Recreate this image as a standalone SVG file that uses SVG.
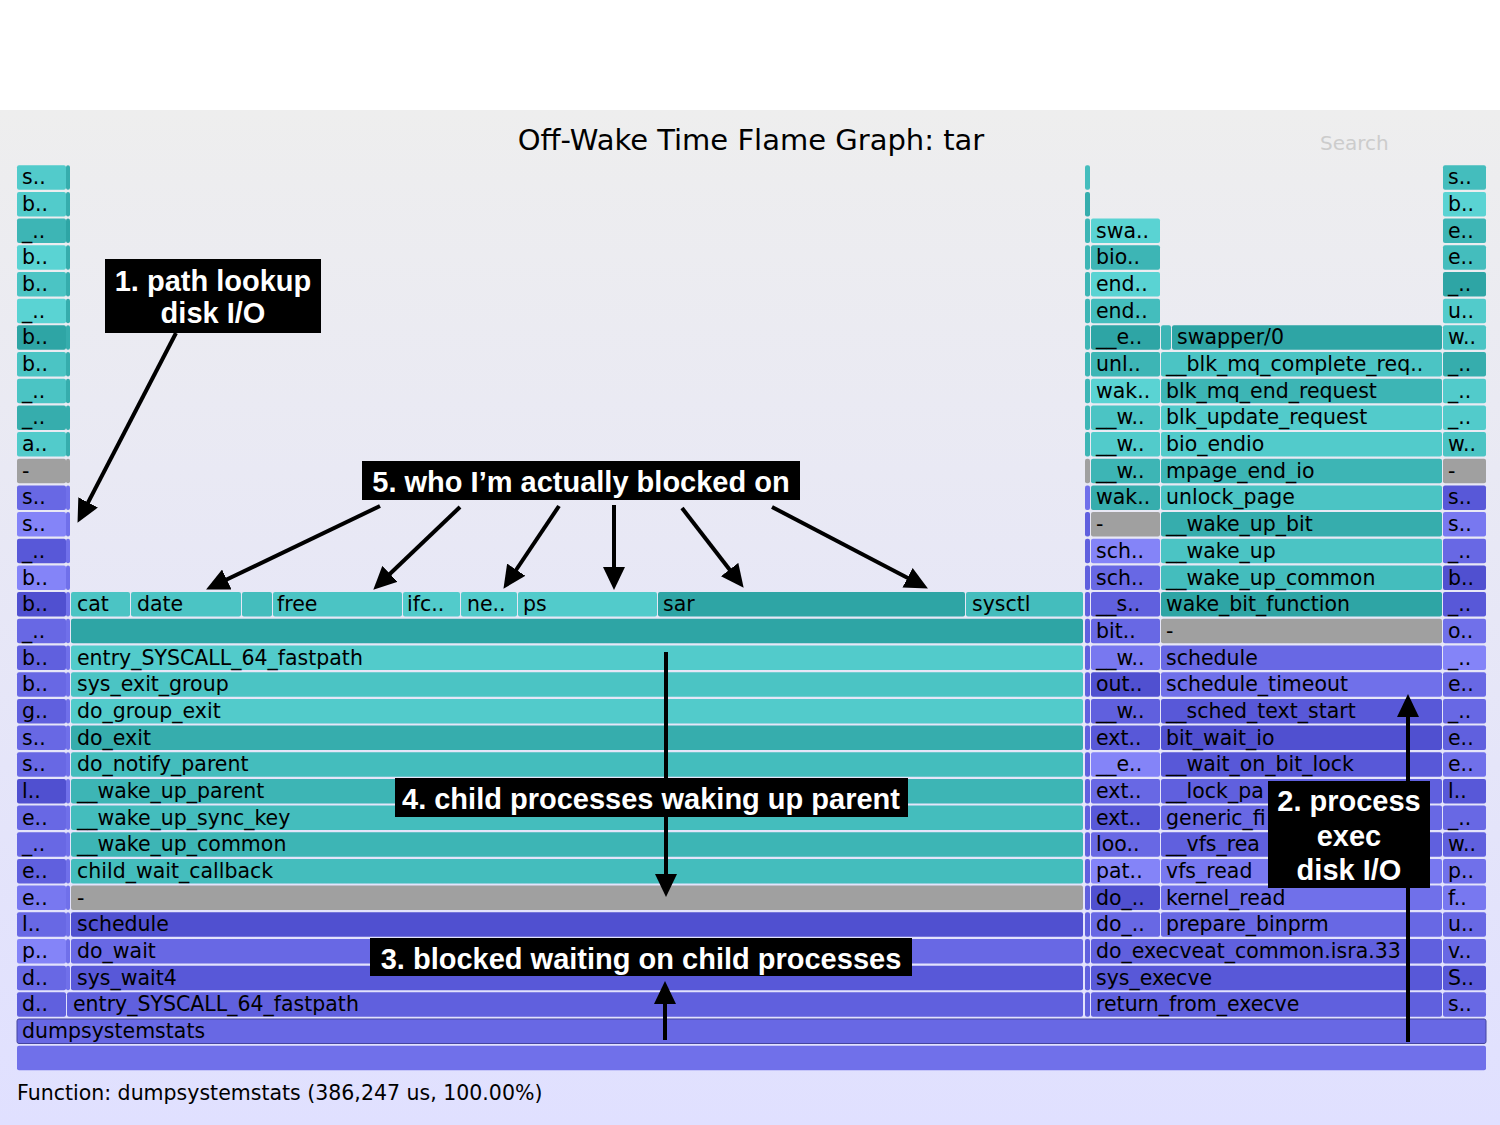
<svg xmlns="http://www.w3.org/2000/svg" width="1500" height="1125" viewBox="0 0 1500 1125">
<style>
.fr rect{rx:2px;ry:2px}
.T0{fill:#2ea5a5}.T1{fill:#36adad}.T2{fill:#3db5b5}.T3{fill:#44bdbd}.T4{fill:#4bc4c4}.T5{fill:#52cbcb}.T6{fill:#5ad3d3}
.B0{fill:#5050d0}.B1{fill:#5858d8}.B2{fill:#6060de}.B3{fill:#6868e4}.B4{fill:#7070ea}.B5{fill:#7878f0}.B6{fill:#8484f8}
.G{fill:#a0a0a0}
.t{font-family:"DejaVu Sans",Verdana,sans-serif;font-size:20.5px;fill:#000}
.title{font-family:"DejaVu Sans",Verdana,sans-serif;font-size:29px;fill:#000;text-anchor:middle}
.search{font-family:"DejaVu Sans",Verdana,sans-serif;font-size:20px;fill:#cccccc}
.a{font-family:"Liberation Sans",Arial,Helvetica,sans-serif;font-weight:bold;font-size:29px;fill:#fff;text-anchor:middle}
.box{fill:#000}
.arr{stroke:#000;stroke-width:4;fill:none;marker-end:url(#ah)}
</style>
<defs>
<linearGradient id="bg" x1="0" y1="0" x2="0" y2="1">
<stop offset="0" stop-color="#eeeeee"/>
<stop offset="1" stop-color="#e0e0ff"/>
</linearGradient>
<marker id="ah" markerUnits="userSpaceOnUse" markerWidth="24" markerHeight="22" viewBox="0 0 24 22" refX="10" refY="11" orient="auto">
<path d="M0,0 L23,11 L0,22 z" fill="#000"/>
</marker>
</defs>
<rect x="0" y="0" width="1500" height="110" fill="#ffffff"/>
<rect x="0" y="110" width="1500" height="1015" fill="url(#bg)"/>
<text class="title" x="751" y="150">Off-Wake Time Flame Graph: tar</text>
<text class="search" x="1320" y="150">Search</text>

<g id="frames" class="fr">
<!-- left column -->
<g id="L33"><rect class="T5" x="17" y="165.3" width="49" height="24.5"/><text class="t" x="22" y="184.3">s..</text></g>
<g id="L32"><rect class="T5" x="17" y="191.9" width="49" height="24.5"/><text class="t" x="22" y="210.9">b..</text></g>
<g id="L31"><rect class="T2" x="17" y="218.6" width="49" height="24.5"/><text class="t" x="22" y="237.6">_..</text></g>
<g id="L30"><rect class="T6" x="17" y="245.3" width="49" height="24.5"/><text class="t" x="22" y="264.3">b..</text></g>
<g id="L29"><rect class="T4" x="17" y="272.0" width="49" height="24.5"/><text class="t" x="22" y="291">b..</text></g>
<g id="L28"><rect class="T6" x="17" y="298.7" width="49" height="24.5"/><text class="t" x="22" y="317.7">_..</text></g>
<g id="L27"><rect class="T0" x="17" y="325.3" width="49" height="24.5"/><text class="t" x="22" y="344.3">b..</text></g>
<g id="L26"><rect class="T4" x="17" y="352.0" width="49" height="24.5"/><text class="t" x="22" y="371">b..</text></g>
<g id="L25"><rect class="T4" x="17" y="378.7" width="49" height="24.5"/><text class="t" x="22" y="397.7">_..</text></g>
<g id="L24"><rect class="T1" x="17" y="405.4" width="49" height="24.5"/><text class="t" x="22" y="424.4">_..</text></g>
<g id="L23"><rect class="T5" x="17" y="432.1" width="49" height="24.5"/><text class="t" x="22" y="451.1">a..</text></g>
<g id="L22"><rect class="G" x="17" y="458.7" width="49" height="24.5"/><text class="t" x="22" y="477.7">-</text></g>
<g id="L21"><rect class="B3" x="17" y="485.4" width="49" height="24.5"/><text class="t" x="22" y="504.4">s..</text></g>
<g id="L20"><rect class="B6" x="17" y="512.1" width="49" height="24.5"/><text class="t" x="22" y="531.1">s..</text></g>
<g id="L19"><rect class="B1" x="17" y="538.8" width="49" height="24.5"/><text class="t" x="22" y="557.8">_..</text></g>
<g id="L18"><rect class="B6" x="17" y="565.5" width="49" height="24.5"/><text class="t" x="22" y="584.5">b..</text></g>
<g id="L17"><rect class="B0" x="17" y="592.1" width="49" height="24.5"/><text class="t" x="22" y="611.1">b..</text></g>
<g id="L16"><rect class="B3" x="17" y="618.8" width="49" height="24.5"/><text class="t" x="22" y="637.8">_..</text></g>
<g id="L15"><rect class="B2" x="17" y="645.5" width="49" height="24.5"/><text class="t" x="22" y="664.5">b..</text></g>
<g id="L14"><rect class="B3" x="17" y="672.2" width="49" height="24.5"/><text class="t" x="22" y="691.2">b..</text></g>
<g id="L13"><rect class="B2" x="17" y="698.9" width="49" height="24.5"/><text class="t" x="22" y="717.9">g..</text></g>
<g id="L12"><rect class="B3" x="17" y="725.5" width="49" height="24.5"/><text class="t" x="22" y="744.5">s..</text></g>
<g id="L11"><rect class="B3" x="17" y="752.2" width="49" height="24.5"/><text class="t" x="22" y="771.2">s..</text></g>
<g id="L10"><rect class="B0" x="17" y="778.9" width="49" height="24.5"/><text class="t" x="22" y="797.9">l..</text></g>
<g id="L9"><rect class="B3" x="17" y="805.6" width="49" height="24.5"/><text class="t" x="22" y="824.6">e..</text></g>
<g id="L8"><rect class="B3" x="17" y="832.3" width="49" height="24.5"/><text class="t" x="22" y="851.3">_..</text></g>
<g id="L7"><rect class="B2" x="17" y="858.9" width="49" height="24.5"/><text class="t" x="22" y="877.9">e..</text></g>
<g id="L6"><rect class="B5" x="17" y="885.6" width="49" height="24.5"/><text class="t" x="22" y="904.6">e..</text></g>
<g id="L5"><rect class="B3" x="17" y="912.3" width="49" height="24.5"/><text class="t" x="22" y="931.3">l..</text></g>
<g id="L4"><rect class="B6" x="17" y="939.0" width="49" height="24.5"/><text class="t" x="22" y="958">p..</text></g>
<g id="L3"><rect class="B3" x="17" y="965.7" width="49" height="24.5"/><text class="t" x="22" y="984.7">d..</text></g>
<g id="L2"><rect class="B2" x="17" y="992.3" width="49" height="24.5"/><text class="t" x="22" y="1011.3">d..</text></g>

<!-- thin slivers -->
<g id="slivers">
<rect class="T1" x="66" y="165.3" width="4" height="24.5"/><rect class="T1" x="66" y="191.9" width="4" height="24.5"/><rect class="T0" x="66" y="218.6" width="4" height="24.5"/><rect class="T1" x="66" y="245.3" width="4" height="24.5"/><rect class="T1" x="66" y="272.0" width="4" height="24.5"/><rect class="T1" x="66" y="298.7" width="4" height="24.5"/><rect class="T1" x="66" y="325.3" width="4" height="24.5"/><rect class="T1" x="66" y="352.0" width="4" height="24.5"/><rect class="T1" x="66" y="378.7" width="4" height="24.5"/><rect class="T1" x="66" y="405.4" width="4" height="24.5"/><rect class="T1" x="66" y="432.1" width="4" height="24.5"/><rect class="G" x="66" y="458.7" width="4" height="24.5"/>
<rect class="B4" x="66" y="485.4" width="4" height="24.5"/><rect class="B4" x="66" y="512.1" width="4" height="24.5"/><rect class="B4" x="66" y="538.8" width="4" height="24.5"/><rect class="B4" x="66" y="565.5" width="4" height="24.5"/><rect class="B4" x="66" y="592.1" width="4" height="24.5"/><rect class="B4" x="66" y="618.8" width="4" height="24.5"/><rect class="B4" x="66" y="645.5" width="4" height="24.5"/><rect class="B4" x="66" y="672.2" width="4" height="24.5"/><rect class="B4" x="66" y="698.9" width="4" height="24.5"/><rect class="B4" x="66" y="725.5" width="4" height="24.5"/><rect class="B4" x="66" y="752.2" width="4" height="24.5"/><rect class="B4" x="66" y="778.9" width="4" height="24.5"/><rect class="B4" x="66" y="805.6" width="4" height="24.5"/><rect class="B4" x="66" y="832.3" width="4" height="24.5"/><rect class="B4" x="66" y="858.9" width="4" height="24.5"/><rect class="B4" x="66" y="885.6" width="4" height="24.5"/><rect class="B4" x="66" y="912.3" width="4" height="24.5"/><rect class="B4" x="66" y="939.0" width="4" height="24.5"/><rect class="B4" x="66" y="965.7" width="4" height="24.5"/>
<rect class="T3" x="1085" y="165.3" width="5" height="24.5"/><rect class="T1" x="1085" y="191.9" width="5" height="24.5"/><rect class="T2" x="1085" y="218.6" width="5" height="24.5"/><rect class="T2" x="1085" y="245.3" width="5" height="24.5"/><rect class="T2" x="1085" y="272.0" width="5" height="24.5"/><rect class="T2" x="1085" y="298.7" width="5" height="24.5"/><rect class="T2" x="1085" y="325.3" width="5" height="24.5"/><rect class="T2" x="1085" y="352.0" width="5" height="24.5"/><rect class="T2" x="1085" y="378.7" width="5" height="24.5"/><rect class="T2" x="1085" y="405.4" width="5" height="24.5"/><rect class="T2" x="1085" y="432.1" width="5" height="24.5"/><rect class="G" x="1085" y="458.7" width="5" height="24.5"/>
<rect class="B4" x="1085" y="485.4" width="5" height="24.5"/><rect class="B2" x="1085" y="512.1" width="5" height="24.5"/><rect class="B2" x="1085" y="538.8" width="5" height="24.5"/><rect class="B2" x="1085" y="565.5" width="5" height="24.5"/><rect class="B2" x="1085" y="592.1" width="5" height="24.5"/><rect class="B2" x="1085" y="618.8" width="5" height="24.5"/><rect class="B2" x="1085" y="645.5" width="5" height="24.5"/><rect class="B2" x="1085" y="672.2" width="5" height="24.5"/><rect class="B2" x="1085" y="698.9" width="5" height="24.5"/><rect class="B2" x="1085" y="725.5" width="5" height="24.5"/><rect class="B2" x="1085" y="752.2" width="5" height="24.5"/><rect class="B2" x="1085" y="778.9" width="5" height="24.5"/><rect class="B2" x="1085" y="805.6" width="5" height="24.5"/><rect class="B2" x="1085" y="832.3" width="5" height="24.5"/><rect class="B2" x="1085" y="858.9" width="5" height="24.5"/><rect class="B2" x="1085" y="885.6" width="5" height="24.5"/><rect class="B2" x="1085" y="912.3" width="5" height="24.5"/><rect class="B2" x="1085" y="939.0" width="5" height="24.5"/><rect class="B2" x="1085" y="965.7" width="5" height="24.5"/><rect class="B2" x="1085" y="992.3" width="5" height="24.5"/>
</g>

<!-- main block -->
<g id="cat"><rect class="T4" x="71" y="592.1" width="59" height="24.5"/><text class="t" x="77" y="611.1">cat</text></g>
<g id="date"><rect class="T4" x="131" y="592.1" width="110" height="24.5"/><text class="t" x="137" y="611.1">date</text></g>
<g id="blank17"><rect class="T3" x="242" y="592.1" width="30" height="24.5"/></g>
<g id="free"><rect class="T4" x="273" y="592.1" width="129" height="24.5"/><text class="t" x="277" y="611.1">free</text></g>
<g id="ifc"><rect class="T5" x="403" y="592.1" width="57" height="24.5"/><text class="t" x="407" y="611.1">ifc..</text></g>
<g id="ne"><rect class="T5" x="461" y="592.1" width="56" height="24.5"/><text class="t" x="467" y="611.1">ne..</text></g>
<g id="ps"><rect class="T5" x="518" y="592.1" width="139" height="24.5"/><text class="t" x="523" y="611.1">ps</text></g>
<g id="sar"><rect class="T0" x="658" y="592.1" width="307" height="24.5"/><text class="t" x="663" y="611.1">sar</text></g>
<g id="sysctl"><rect class="T3" x="966" y="592.1" width="117" height="24.5"/><text class="t" x="972" y="611.1">sysctl</text></g>
<g id="M16"><rect class="T0" x="71" y="618.8" width="1012" height="24.5"/></g>
<g id="M15"><rect class="T5" x="71" y="645.5" width="1012" height="24.5"/><text class="t" x="77" y="664.5">entry_SYSCALL_64_fastpath</text></g>
<g id="M14"><rect class="T4" x="71" y="672.2" width="1012" height="24.5"/><text class="t" x="77" y="691.2">sys_exit_group</text></g>
<g id="M13"><rect class="T5" x="71" y="698.9" width="1012" height="24.5"/><text class="t" x="77" y="717.9">do_group_exit</text></g>
<g id="M12"><rect class="T1" x="71" y="725.5" width="1012" height="24.5"/><text class="t" x="77" y="744.5">do_exit</text></g>
<g id="M11"><rect class="T3" x="71" y="752.2" width="1012" height="24.5"/><text class="t" x="77" y="771.2">do_notify_parent</text></g>
<g id="M10"><rect class="T2" x="71" y="778.9" width="1012" height="24.5"/><text class="t" x="77" y="797.9">__wake_up_parent</text></g>
<g id="M9"><rect class="T3" x="71" y="805.6" width="1012" height="24.5"/><text class="t" x="77" y="824.6">__wake_up_sync_key</text></g>
<g id="M8"><rect class="T2" x="71" y="832.3" width="1012" height="24.5"/><text class="t" x="77" y="851.3">__wake_up_common</text></g>
<g id="M7"><rect class="T3" x="71" y="858.9" width="1012" height="24.5"/><text class="t" x="77" y="877.9">child_wait_callback</text></g>
<g id="M6"><rect class="G" x="71" y="885.6" width="1012" height="24.5"/><text class="t" x="77" y="904.6">-</text></g>
<g id="M5"><rect class="B0" x="71" y="912.3" width="1012" height="24.5"/><text class="t" x="77" y="931.3">schedule</text></g>
<g id="M4"><rect class="B3" x="71" y="939.0" width="1012" height="24.5"/><text class="t" x="77" y="958">do_wait</text></g>
<g id="M3"><rect class="B1" x="71" y="965.7" width="1012" height="24.5"/><text class="t" x="77" y="984.7">sys_wait4</text></g>
<g id="M2"><rect class="B2" x="67" y="992.3" width="1016" height="24.5"/><text class="t" x="73" y="1011.3">entry_SYSCALL_64_fastpath</text></g>
<g id="root1"><rect class="B3" x="17" y="1019.0" width="1469" height="24.5" stroke="#4444a0" stroke-width="1"/><text class="t" x="22" y="1038">dumpsystemstats</text></g>
<g id="root0"><rect class="B4" x="17" y="1045.7" width="1469" height="24.5"/></g>

<!-- right block -->
<g id="R2"><rect class="B2" x="1091" y="992.3" width="351" height="24.5"/><text class="t" x="1096" y="1011.3">return_from_execve</text></g>
<g id="R3"><rect class="B1" x="1091" y="965.7" width="351" height="24.5"/><text class="t" x="1096" y="984.7">sys_execve</text></g>
<g id="R4"><rect class="B2" x="1091" y="939.0" width="351" height="24.5"/><text class="t" x="1096" y="958">do_execveat_common.isra.33</text></g>
<g id="S5"><rect class="B3" x="1091" y="912.3" width="69" height="24.5"/><text class="t" x="1096" y="931.3">do_..</text></g>
<g id="R5"><rect class="B3" x="1161" y="912.3" width="281" height="24.5"/><text class="t" x="1166" y="931.3">prepare_binprm</text></g>
<g id="S6"><rect class="B0" x="1091" y="885.6" width="69" height="24.5"/><text class="t" x="1096" y="904.6">do_..</text></g>
<g id="R6"><rect class="B4" x="1161" y="885.6" width="281" height="24.5"/><text class="t" x="1166" y="904.6">kernel_read</text></g>
<g id="S7"><rect class="B6" x="1091" y="858.9" width="69" height="24.5"/><text class="t" x="1096" y="877.9">pat..</text></g>
<g id="R7"><rect class="B5" x="1161" y="858.9" width="281" height="24.5"/><text class="t" x="1166" y="877.9">vfs_read</text></g>
<g id="S8"><rect class="B3" x="1091" y="832.3" width="69" height="24.5"/><text class="t" x="1096" y="851.3">loo..</text></g>
<g id="R8"><rect class="B2" x="1161" y="832.3" width="281" height="24.5"/><text class="t" x="1166" y="851.3">__vfs_rea</text></g>
<g id="S9"><rect class="B1" x="1091" y="805.6" width="69" height="24.5"/><text class="t" x="1096" y="824.6">ext..</text></g>
<g id="R9"><rect class="B3" x="1161" y="805.6" width="281" height="24.5"/><text class="t" x="1166" y="824.6">generic_fi</text></g>
<g id="S10"><rect class="B3" x="1091" y="778.9" width="69" height="24.5"/><text class="t" x="1096" y="797.9">ext..</text></g>
<g id="R10"><rect class="B2" x="1161" y="778.9" width="281" height="24.5"/><text class="t" x="1166" y="797.9">__lock_pa</text></g>
<g id="S11"><rect class="B6" x="1091" y="752.2" width="69" height="24.5"/><text class="t" x="1096" y="771.2">__e..</text></g>
<g id="R11"><rect class="B1" x="1161" y="752.2" width="281" height="24.5"/><text class="t" x="1166" y="771.2">__wait_on_bit_lock</text></g>
<g id="S12"><rect class="B1" x="1091" y="725.5" width="69" height="24.5"/><text class="t" x="1096" y="744.5">ext..</text></g>
<g id="R12"><rect class="B0" x="1161" y="725.5" width="281" height="24.5"/><text class="t" x="1166" y="744.5">bit_wait_io</text></g>
<g id="S13"><rect class="B2" x="1091" y="698.9" width="69" height="24.5"/><text class="t" x="1096" y="717.9">__w..</text></g>
<g id="R13"><rect class="B1" x="1161" y="698.9" width="281" height="24.5"/><text class="t" x="1166" y="717.9">__sched_text_start</text></g>
<g id="S14"><rect class="B0" x="1091" y="672.2" width="69" height="24.5"/><text class="t" x="1096" y="691.2">out..</text></g>
<g id="R14"><rect class="B4" x="1161" y="672.2" width="281" height="24.5"/><text class="t" x="1166" y="691.2">schedule_timeout</text></g>
<g id="S15"><rect class="B5" x="1091" y="645.5" width="69" height="24.5"/><text class="t" x="1096" y="664.5">__w..</text></g>
<g id="R15"><rect class="B3" x="1161" y="645.5" width="281" height="24.5"/><text class="t" x="1166" y="664.5">schedule</text></g>
<g id="S16"><rect class="B3" x="1091" y="618.8" width="69" height="24.5"/><text class="t" x="1096" y="637.8">bit..</text></g>
<g id="R16"><rect class="G" x="1161" y="618.8" width="281" height="24.5"/><text class="t" x="1166" y="637.8">-</text></g>
<g id="S17"><rect class="B2" x="1091" y="592.1" width="69" height="24.5"/><text class="t" x="1096" y="611.1">__s..</text></g>
<g id="R17"><rect class="T0" x="1161" y="592.1" width="281" height="24.5"/><text class="t" x="1166" y="611.1">wake_bit_function</text></g>
<g id="S18"><rect class="B3" x="1091" y="565.5" width="69" height="24.5"/><text class="t" x="1096" y="584.5">sch..</text></g>
<g id="R18"><rect class="T3" x="1161" y="565.5" width="281" height="24.5"/><text class="t" x="1166" y="584.5">__wake_up_common</text></g>
<g id="S19"><rect class="B6" x="1091" y="538.8" width="69" height="24.5"/><text class="t" x="1096" y="557.8">sch..</text></g>
<g id="R19"><rect class="T4" x="1161" y="538.8" width="281" height="24.5"/><text class="t" x="1166" y="557.8">__wake_up</text></g>
<g id="S20"><rect class="G" x="1091" y="512.1" width="69" height="24.5"/><text class="t" x="1096" y="531.1">-</text></g>
<g id="R20"><rect class="T1" x="1161" y="512.1" width="281" height="24.5"/><text class="t" x="1166" y="531.1">__wake_up_bit</text></g>
<g id="S21"><rect class="T1" x="1091" y="485.4" width="69" height="24.5"/><text class="t" x="1096" y="504.4">wak..</text></g>
<g id="R21"><rect class="T4" x="1161" y="485.4" width="281" height="24.5"/><text class="t" x="1166" y="504.4">unlock_page</text></g>
<g id="S22"><rect class="T2" x="1091" y="458.7" width="69" height="24.5"/><text class="t" x="1096" y="477.7">__w..</text></g>
<g id="R22"><rect class="T2" x="1161" y="458.7" width="281" height="24.5"/><text class="t" x="1166" y="477.7">mpage_end_io</text></g>
<g id="S23"><rect class="T5" x="1091" y="432.1" width="69" height="24.5"/><text class="t" x="1096" y="451.1">__w..</text></g>
<g id="R23"><rect class="T5" x="1161" y="432.1" width="281" height="24.5"/><text class="t" x="1166" y="451.1">bio_endio</text></g>
<g id="S24"><rect class="T4" x="1091" y="405.4" width="69" height="24.5"/><text class="t" x="1096" y="424.4">__w..</text></g>
<g id="R24"><rect class="T5" x="1161" y="405.4" width="281" height="24.5"/><text class="t" x="1166" y="424.4">blk_update_request</text></g>
<g id="S25"><rect class="T6" x="1091" y="378.7" width="69" height="24.5"/><text class="t" x="1096" y="397.7">wak..</text></g>
<g id="R25"><rect class="T2" x="1161" y="378.7" width="281" height="24.5"/><text class="t" x="1166" y="397.7">blk_mq_end_request</text></g>
<g id="S26"><rect class="T2" x="1091" y="352.0" width="69" height="24.5"/><text class="t" x="1096" y="371">unl..</text></g>
<g id="R26"><rect class="T4" x="1161" y="352.0" width="281" height="24.5"/><text class="t" x="1166" y="371">__blk_mq_complete_req..</text></g>
<g id="S27"><rect class="T0" x="1091" y="325.3" width="69" height="24.5"/><text class="t" x="1096" y="344.3">__e..</text></g>
<g id="R27a"><rect class="T2" x="1161" y="325.3" width="10" height="24.5"/></g>
<g id="R27"><rect class="T0" x="1172" y="325.3" width="270" height="24.5"/><text class="t" x="1177" y="344.3">swapper/0</text></g>
<g id="S28"><rect class="T3" x="1091" y="298.7" width="69" height="24.5"/><text class="t" x="1096" y="317.7">end..</text></g>
<g id="S29"><rect class="T6" x="1091" y="272.0" width="69" height="24.5"/><text class="t" x="1096" y="291">end..</text></g>
<g id="S30"><rect class="T2" x="1091" y="245.3" width="69" height="24.5"/><text class="t" x="1096" y="264.3">bio..</text></g>
<g id="S31"><rect class="T6" x="1091" y="218.6" width="69" height="24.5"/><text class="t" x="1096" y="237.6">swa..</text></g>

<!-- right column -->
<g id="C33"><rect class="T3" x="1443" y="165.3" width="43" height="24.5"/><text class="t" x="1448" y="184.3">s..</text></g>
<g id="C32"><rect class="T6" x="1443" y="191.9" width="43" height="24.5"/><text class="t" x="1448" y="210.9">b..</text></g>
<g id="C31"><rect class="T2" x="1443" y="218.6" width="43" height="24.5"/><text class="t" x="1448" y="237.6">e..</text></g>
<g id="C30"><rect class="T3" x="1443" y="245.3" width="43" height="24.5"/><text class="t" x="1448" y="264.3">e..</text></g>
<g id="C29"><rect class="T0" x="1443" y="272.0" width="43" height="24.5"/><text class="t" x="1448" y="291">_..</text></g>
<g id="C28"><rect class="T5" x="1443" y="298.7" width="43" height="24.5"/><text class="t" x="1448" y="317.7">u..</text></g>
<g id="C27"><rect class="T4" x="1443" y="325.3" width="43" height="24.5"/><text class="t" x="1448" y="344.3">w..</text></g>
<g id="C26"><rect class="T1" x="1443" y="352.0" width="43" height="24.5"/><text class="t" x="1448" y="371">_..</text></g>
<g id="C25"><rect class="T5" x="1443" y="378.7" width="43" height="24.5"/><text class="t" x="1448" y="397.7">_..</text></g>
<g id="C24"><rect class="T5" x="1443" y="405.4" width="43" height="24.5"/><text class="t" x="1448" y="424.4">_..</text></g>
<g id="C23"><rect class="T4" x="1443" y="432.1" width="43" height="24.5"/><text class="t" x="1448" y="451.1">w..</text></g>
<g id="C22"><rect class="G" x="1443" y="458.7" width="43" height="24.5"/><text class="t" x="1448" y="477.7">-</text></g>
<g id="C21"><rect class="B1" x="1443" y="485.4" width="43" height="24.5"/><text class="t" x="1448" y="504.4">s..</text></g>
<g id="C20"><rect class="B5" x="1443" y="512.1" width="43" height="24.5"/><text class="t" x="1448" y="531.1">s..</text></g>
<g id="C19"><rect class="B3" x="1443" y="538.8" width="43" height="24.5"/><text class="t" x="1448" y="557.8">_..</text></g>
<g id="C18"><rect class="B0" x="1443" y="565.5" width="43" height="24.5"/><text class="t" x="1448" y="584.5">b..</text></g>
<g id="C17"><rect class="B1" x="1443" y="592.1" width="43" height="24.5"/><text class="t" x="1448" y="611.1">_..</text></g>
<g id="C16"><rect class="B4" x="1443" y="618.8" width="43" height="24.5"/><text class="t" x="1448" y="637.8">o..</text></g>
<g id="C15"><rect class="B6" x="1443" y="645.5" width="43" height="24.5"/><text class="t" x="1448" y="664.5">_..</text></g>
<g id="C14"><rect class="B3" x="1443" y="672.2" width="43" height="24.5"/><text class="t" x="1448" y="691.2">e..</text></g>
<g id="C13"><rect class="B3" x="1443" y="698.9" width="43" height="24.5"/><text class="t" x="1448" y="717.9">_..</text></g>
<g id="C12"><rect class="B2" x="1443" y="725.5" width="43" height="24.5"/><text class="t" x="1448" y="744.5">e..</text></g>
<g id="C11"><rect class="B4" x="1443" y="752.2" width="43" height="24.5"/><text class="t" x="1448" y="771.2">e..</text></g>
<g id="C10"><rect class="B1" x="1443" y="778.9" width="43" height="24.5"/><text class="t" x="1448" y="797.9">l..</text></g>
<g id="C9"><rect class="B3" x="1443" y="805.6" width="43" height="24.5"/><text class="t" x="1448" y="824.6">_..</text></g>
<g id="C8"><rect class="B2" x="1443" y="832.3" width="43" height="24.5"/><text class="t" x="1448" y="851.3">w..</text></g>
<g id="C7"><rect class="B4" x="1443" y="858.9" width="43" height="24.5"/><text class="t" x="1448" y="877.9">p..</text></g>
<g id="C6"><rect class="B5" x="1443" y="885.6" width="43" height="24.5"/><text class="t" x="1448" y="904.6">f..</text></g>
<g id="C5"><rect class="B3" x="1443" y="912.3" width="43" height="24.5"/><text class="t" x="1448" y="931.3">u..</text></g>
<g id="C4"><rect class="B3" x="1443" y="939.0" width="43" height="24.5"/><text class="t" x="1448" y="958">v..</text></g>
<g id="C3"><rect class="B1" x="1443" y="965.7" width="43" height="24.5"/><text class="t" x="1448" y="984.7">S..</text></g>
<g id="C2"><rect class="B3" x="1443" y="992.3" width="43" height="24.5"/><text class="t" x="1448" y="1011.3">s..</text></g>
</g>

<text class="t" x="17" y="1100">Function: dumpsystemstats (386,247 us, 100.00%)</text>

<g id="connectors">
<line class="arr" x1="176" y1="333" x2="83.5" y2="511.3"/>
<line class="arr" x1="380" y1="506" x2="217.8" y2="583.8"/>
<line class="arr" x1="460" y1="507" x2="382.7" y2="580.7"/>
<line class="arr" x1="559" y1="506" x2="510.7" y2="578"/>
<line class="arr" x1="614" y1="505" x2="614" y2="577"/>
<line class="arr" x1="682" y1="508" x2="735.7" y2="577.5"/>
<line class="arr" x1="772" y1="507" x2="916.4" y2="582.4"/>
<line class="arr" x1="666" y1="652" x2="666" y2="884"/>
<line class="arr" x1="665" y1="1040" x2="665" y2="994"/>
<line class="arr" x1="1408" y1="1042" x2="1408" y2="707"/>
</g>

<g id="note1"><rect class="box" x="105" y="259" width="216" height="74"/><text class="a" x="213" y="291">1. path lookup</text><text class="a" x="213" y="323">disk I/O</text></g>
<g id="note5"><rect class="box" x="362" y="461" width="438" height="39"/><text class="a" x="581" y="492">5. who I’m actually blocked on</text></g>
<g id="note4"><rect class="box" x="395" y="778" width="513" height="39"/><text class="a" x="651" y="809">4. child processes waking up parent</text></g>
<g id="note3"><rect class="box" x="370" y="938" width="542" height="38"/><text class="a" x="641" y="969">3. blocked waiting on child processes</text></g>
<g id="note2"><rect class="box" x="1268" y="781" width="162" height="107"/><text class="a" x="1349" y="811">2. process</text><text class="a" x="1349" y="846">exec</text><text class="a" x="1349" y="880">disk I/O</text></g>
</svg>
